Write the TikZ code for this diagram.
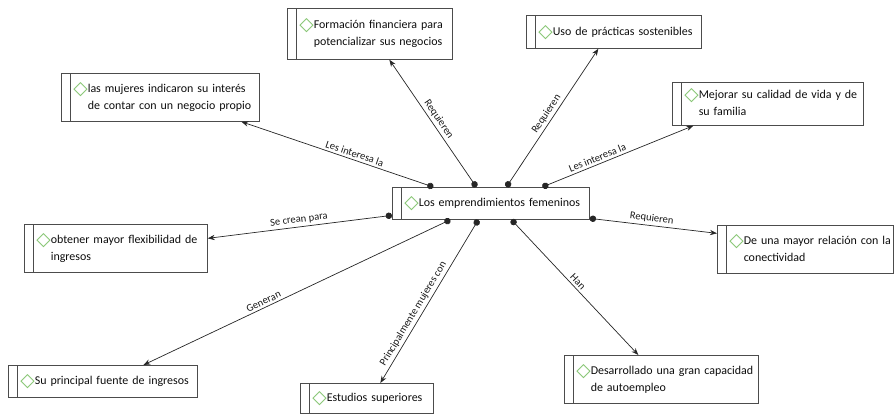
\documentclass[tikz,border=0pt]{standalone}
\usepackage{fontspec}
\setmainfont{Carlito}
\newfontfamily\symfont{DejaVu Sans}
\usetikzlibrary{arrows.meta}
\definecolor{diamgreen}{RGB}{130,195,110}
\newcommand{\diam}{\raisebox{-1.6pt}{\symfont\fontsize{16}{16}\selectfont\color{diamgreen}◇}}
\newcommand{\ctxt}[1]{\diam\begin{tabular}[t]{@{}l@{}}#1\end{tabular}}
\tikzset{
  concept/.style={draw=black!70, line width=0.6pt, anchor=north west, align=left,
    inner xsep=0.36cm, font=\fontsize{10.2}{14.5}\selectfont, text=black!95,
    path picture={\draw[black!70, line width=0.6pt]
      ([xshift=0.27cm]path picture bounding box.north west) --
      ([xshift=0.27cm]path picture bounding box.south west);}},
  link/.style={draw=black!85, line width=0.6pt,
    {Circle[length=5.5pt]}-{Stealth[length=6pt,width=4.5pt]}},
  linklabel/.style={font=\fontsize{9}{10}\selectfont, sloped, above,
    text=black!90, inner sep=2pt}
}
\begin{document}
\begin{tikzpicture}[x=0.03cm, y=-0.03cm]
  \useasboundingbox (0,0) rectangle (894,414);
  \node[concept, text width=5.19cm, minimum height=0.96cm] (central) at (392,187)
    {\ctxt{Los emprendimientos femeninos}};
  \node[concept, text width=4.23cm, minimum height=1.53cm] (form) at (287,8)
    {\ctxt{Formación financiera para\\potencializar sus negocios}};
  \node[concept, text width=5.22cm, minimum height=1.44cm] (mujeres) at (61,73)
    {\ctxt{las mujeres indicaron su interés\\de contar con un negocio propio}};
  \node[concept, text width=4.77cm, minimum height=1.44cm] (flex) at (24,224)
    {\ctxt{obtener mayor flexibilidad de\\ingresos}};
  \node[concept, text width=4.95cm, minimum height=0.96cm] (fuente) at (8,365)
    {\ctxt{Su principal fuente de ingresos}};
  \node[concept, text width=3.27cm, minimum height=0.90cm] (estudios) at (300,383)
    {\ctxt{Estudios superiores}};
  \node[concept, text width=5.10cm, minimum height=1.44cm] (auto) at (564,355)
    {\ctxt{Desarrollado una gran capacidad\\de autoempleo}};
  \node[concept, text width=4.56cm, minimum height=1.44cm] (conect) at (717,225)
    {\ctxt{De una mayor relación con la\\conectividad}};
  \node[concept, text width=5.01cm, minimum height=1.29cm] (familia) at (672,82)
    {\ctxt{Mejorar su calidad de vida y de\\su familia}};
  \node[concept, text width=4.53cm, minimum height=0.99cm] (sosten) at (526,15)
    {\ctxt{Uso de prácticas sostenibles}};

  \draw[link] ([xshift=-1.725cm]central.north) -- ([xshift=2.43cm]mujeres.south)
    node[linklabel, pos=0.42] {Les interesa la};
  \draw[link] ([xshift=-0.435cm]central.north) -- ([xshift=0.585cm]form.south)
    node[linklabel, pos=0.5] {Requieren};
  \draw[link] ([xshift=0.465cm]central.north) -- ([xshift=-0.465cm]sosten.south)
    node[linklabel, pos=0.5] {Requieren};
  \draw[link] ([xshift=1.545cm]central.north) -- ([xshift=-2.235cm]familia.south)
    node[linklabel, pos=0.38] {Les interesa la};
  \draw[link] ([yshift=-0.36cm]central.west) -- ([yshift=0.3cm]flex.east)
    node[linklabel, pos=0.5] {Se crean para};
  \draw[link] ([yshift=-0.45cm]central.east) -- ([yshift=0.48cm]conect.west)
    node[linklabel, pos=0.48] {Requieren};
  \draw[link] ([xshift=-1.215cm]central.south) -- ([xshift=1.215cm]fuente.north)
    node[linklabel, pos=0.6] {Generan};
  \draw[link] ([xshift=-0.375cm]central.south) -- ([xshift=0.405cm]estudios.north)
    node[linklabel, pos=0.6] {Principalmente mujeres con};
  \draw[link] ([xshift=0.615cm]central.south) -- ([xshift=-0.69cm]auto.north)
    node[linklabel, pos=0.49] {Han};
\end{tikzpicture}
\end{document}
